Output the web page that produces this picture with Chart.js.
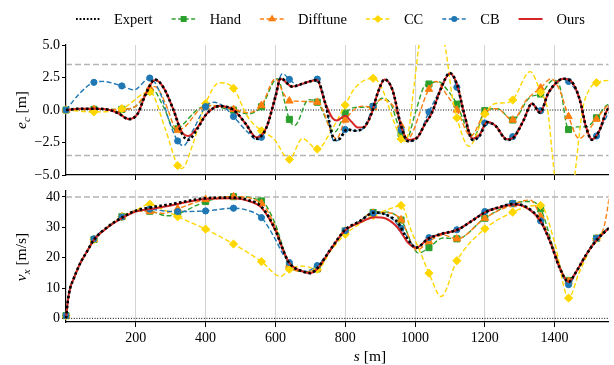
<!DOCTYPE html>
<html>
<head>
<meta charset="utf-8">
<script src="https://cdn.jsdelivr.net/npm/chart.js@4"></script>
<style>
  body { margin: 0; background: #fff; }
  #wrap { position: relative; width: 614px; height: 365px; font-family: "Liberation Serif", serif; color: #000; }
  canvas { position: absolute; left: 0; }
  .lab { position: absolute; font-size: 15.5px; white-space: nowrap; line-height: 1; }
  .rot { transform: translate(-50%, -50%) rotate(-90deg); }
  .ctr { transform: translate(-50%, -50%); }
  .lab sub { font-size: 70%; vertical-align: -0.3em; line-height: 0; }
</style>
</head>
<body>
<div id="wrap">
  <canvas id="topChart" width="614" height="185" style="top:0"></canvas>
  <canvas id="botChart" width="614" height="180" style="top:185px"></canvas>
  <div class="lab rot" style="left:21px;top:110px"><i>e<sub>c</sub></i> [m]</div>
  <div class="lab rot" style="left:21px;top:257px"><i>v<sub>x</sub></i> [m/s]</div>
  <div class="lab ctr" style="left:370px;top:356px"><i>s</i> [m]</div>
</div>
<script>
// axis ranges / ticks
const sMin = 0, sMax = 1555;
const sTicks = [200, 400, 600, 800, 1000, 1200, 1400];
const sTickLabels = ["200", "400", "600", "800", "1000", "1200", "1400"];
const eTicks = [-5, -2.5, 0, 2.5, 5];
const eTickLabels = ["\u22125.0", "\u22122.5", "0.0", "2.5", "5.0"];
const vTicks = [0, 10, 20, 30, 40];
const vTickLabels = ["0", "10", "20", "30", "40"];
const eBound = 3.5;
const vLimit = 40;
const names = ["Expert", "Hand", "Difftune", "CC", "CB", "Ours"];

// lateral error e_c [m]  ([s, value])
const expertE = [[0,0],[40,0.1],[90,0.1],[125,0],[150,-0.25],[180,-0.7],[205,-0.3],[228,1.2],[255,2.35],[280,1.7],[308,0],[332,-1.8],[350,-2.3],[375,-1.5],[403,-0.3],[440,0.3],[480,0],[516,-1.1],[545,-2.2],[560,-2.0],[575,-1.3],[600,1.0],[615,2.45],[648,1.8],[686,2.1],[719,2.3],[743,0.5],[770,-2.3],[785,-2.2],[805,-1.5],[830,-1.6],[855,-1.3],[875,-0.3],[893,1.3],[913,2.35],[936,1.5],[960,-1.2],[980,-2.4],[1007,-2.1],[1030,-1.0],[1047,-0.3],[1075,1.7],[1100,2.85],[1120,2.0],[1141,-0.3],[1165,-2.3],[1185,-2.0],[1207,-0.95],[1230,-1.2],[1264,-2.3],[1283,-2.1],[1311,-0.8],[1335,0.5],[1358,-0.2],[1382,1.3],[1405,2.1],[1424,2.4],[1448,2.2],[1472,0.8],[1490,-1.3],[1507,-2.3],[1528,-1.6],[1547,-0.2],[1560,0.4]];
const oursE = [[0,0],[40,0.1],[90,0.1],[125,0],[150,-0.25],[180,-0.7],[205,-0.3],[228,1.2],[255,2.3],[280,1.7],[308,0],[332,-1.7],[350,-2.0],[375,-1.4],[403,-0.3],[440,0.3],[480,0],[516,-1.1],[545,-2.1],[560,-1.95],[575,-1.3],[600,1.0],[615,2.4],[648,1.8],[686,2.1],[719,2.3],[743,0.5],[763,-0.6],[776,-0.8],[800,-0.45],[818,-0.9],[837,-1.35],[855,-1.3],[875,-0.3],[893,1.3],[913,2.35],[936,1.5],[960,-1.2],[980,-2.3],[1007,-2.1],[1030,-1.0],[1047,-0.3],[1075,1.7],[1100,2.8],[1120,2.0],[1141,-0.3],[1165,-2.2],[1185,-1.9],[1207,-0.9],[1230,-1.2],[1264,-2.25],[1283,-2.1],[1311,-0.8],[1335,0.5],[1358,-0.2],[1382,1.3],[1405,2.1],[1424,2.4],[1448,2.2],[1472,0.8],[1490,-1.3],[1507,-2.25],[1528,-1.6],[1547,-0.2],[1560,0.4]];
const cbE = [[0,0],[40,1.3],[80,2.13],[105,2.2],[160,1.85],[195,1.55],[240,2.46],[270,1.3],[300,-1.2],[320,-2.38],[336,-2.75],[365,-1.5],[400,0.26],[425,0.6],[450,0.3],[480,-0.5],[520,-1.7],[548,-2.3],[560,-2.1],[580,-1.0],[600,1.2],[620,2.8],[640,2.36],[665,1.9],[690,2.1],[720,2.38],[745,0.3],[768,-2.4],[785,-2.2],[800,-1.5],[830,-1.6],[855,-1.3],[880,0.3],[913,2.35],[936,1.5],[960,-1.5],[982,-2.4],[1007,-2.1],[1040,-0.15],[1075,1.7],[1100,2.85],[1120,1.75],[1141,-0.3],[1165,-2.3],[1185,-2.0],[1200,-1.0],[1230,-1.2],[1264,-2.3],[1280,-2.05],[1311,-0.8],[1335,0.5],[1360,-0.05],[1382,1.3],[1424,2.4],[1440,2.2],[1472,0.8],[1490,-1.3],[1507,-2.3],[1520,-2.0],[1547,-0.6],[1560,0]];
const handE = [[0,0],[80,0.05],[160,0.05],[200,0.3],[240,1.45],[250,1.5],[280,0.2],[312,-1.5],[320,-1.45],[380,0.1],[400,0.3],[410,0.35],[440,0.2],[480,0],[520,-0.3],[560,0.25],[605,2.4],[640,-0.72],[655,-1.2],[695,0.8],[720,0.6],[770,-1.7],[800,-0.25],[830,0.2],[880,0.25],[905,0.9],[930,0.5],[960,-1.8],[975,-2.3],[1000,-0.3],[1026,1.8],[1040,2.0],[1066,2.2],[1094,1.5],[1120,0.45],[1150,-1.5],[1170,-2.0],[1200,-0.05],[1236,0.1],[1280,-0.77],[1330,1.0],[1360,1.23],[1396,2.3],[1415,1.8],[1440,-1.5],[1462,-1.3],[1490,-1.3],[1520,-0.6],[1547,0.3],[1560,0.5]];
const diffE = [[0,0],[80,0.05],[160,0.05],[200,0.3],[240,1.7],[255,1.8],[285,0.5],[315,-1.5],[320,-1.55],[340,-1.3],[390,0.2],[400,0.25],[420,0.35],[480,0.05],[520,-0.2],[560,0.35],[600,2.4],[625,1.2],[640,0.7],[720,0.6],[775,-2.2],[800,-0.77],[850,0.3],[880,0.2],[900,0.8],[940,0.2],[960,-1.2],[975,-2.3],[1040,1.6],[1060,2.2],[1090,1.2],[1120,0],[1160,-2.0],[1200,-0.2],[1235,0.1],[1280,-0.77],[1320,0.8],[1360,1.7],[1390,2.4],[1415,1.5],[1440,-0.5],[1470,-2.2],[1490,-1.8],[1520,-0.7],[1550,0.3],[1560,0.5]];
const ccE = [[0,0],[80,-0.15],[160,0.1],[240,1.4],[285,-1.5],[320,-4.28],[332,-4.5],[365,-2.5],[400,0.5],[440,2.1],[480,1.67],[520,-0.5],[560,-1.6],[595,-2.2],[640,-3.8],[677,-2.2],[720,-3.0],[762,-1.5],[800,0.38],[828,1.7],[880,2.44],[903,1.8],[941,-1.0],[960,-2.23],[974,-2.4],[998,2.0],[1012,5.1],[1040,8.5],[1085,5.1],[1108,0.8],[1120,-0.6],[1155,-2.8],[1200,-0.3],[1230,0.5],[1260,0.55],[1280,0.77],[1330,2.95],[1360,1.36],[1380,0],[1400,-5.0],[1440,-9],[1458,-5.0],[1480,0],[1500,1.6],[1520,2.1],[1560,2.3]];

// longitudinal speed v_x [m/s]  ([s, value])
const expertV = [[0,0],[5,5.5],[12,10],[20,12.5],[40,18],[60,22],[80,25.9],[120,30.2],[160,33.2],[200,35.5],[240,36.5],[300,37.6],[350,38.7],[400,39.6],[480,39.8],[520,39],[560,36.8],[600,29.1],[620,23.1],[640,18.2],[680,15.4],[700,14.9],[720,16.5],[760,23.1],[800,29.2],[840,31.9],[885,34.9],[914,34.3],[952,31.4],[971,27.5],[1004,23.3],[1037,26.2],[1075,27.8],[1122,29.2],[1160,31.9],[1202,35],[1245,36.8],[1283,37.7],[1320,36.6],[1358,32.5],[1387,25.3],[1415,16.5],[1440,12],[1462,15.4],[1490,20.9],[1523,26.1],[1560,30.2]];
const oursV = [[0,0],[5,5.5],[12,10],[20,12.5],[40,18],[60,22],[80,25.9],[120,30.0],[160,33.0],[200,35.2],[240,36.0],[300,37.2],[350,38.4],[400,39.3],[480,39.6],[520,38.8],[560,36.5],[600,29.0],[620,23.1],[640,18.2],[680,15.4],[700,14.9],[720,16.3],[760,23.0],[800,29.0],[840,31.5],[885,33.3],[914,33.0],[952,29.7],[981,24.8],[1004,23.3],[1037,26.2],[1075,27.8],[1122,29.2],[1160,31.9],[1202,35],[1245,36.6],[1283,37.5],[1320,36.4],[1358,32.3],[1387,25.3],[1415,16.5],[1440,12],[1462,15.4],[1490,20.9],[1523,26.1],[1560,30.2]];
const cbV = [[0,0.9],[5,5.5],[12,10],[20,12.5],[40,18],[60,22],[80,26.2],[120,30.2],[160,33.4],[200,35.3],[240,36.0],[280,35.4],[320,35.2],[400,35.4],[480,36.3],[520,35.6],[560,33.2],[600,26],[620,21.5],[640,18.4],[680,15.5],[720,17.4],[760,23.1],[800,28.9],[840,31.9],[880,34.6],[914,34.3],[960,29.7],[1004,23.5],[1040,26.6],[1075,27.8],[1120,29.2],[1160,31.9],[1200,35.2],[1245,36.8],[1280,37.9],[1320,36.6],[1360,32.1],[1387,25.3],[1415,16.5],[1440,11.1],[1462,15.4],[1490,20.9],[1520,26.4],[1560,30.2]];
const handV = [[0,0.9],[5,5.5],[12,10],[20,12.5],[40,18],[60,22],[80,26.0],[120,30.2],[160,33.5],[200,35.4],[240,35.3],[290,33.8],[320,34.4],[400,38.5],[480,40.1],[560,38.7],[600,31],[620,24],[640,17.1],[680,15.4],[720,16.3],[760,23],[800,28.8],[840,31.9],[880,34.9],[920,35],[960,32.4],[1010,21.5],[1040,23.3],[1080,26.5],[1120,26.2],[1200,33],[1280,37.8],[1330,38.5],[1360,36.1],[1400,22],[1440,12.5],[1462,15.4],[1490,20.9],[1520,26.4],[1560,30.2]];
const diffV = [[0,0.9],[5,5.5],[12,10],[20,12.5],[40,18],[60,22],[80,26.0],[120,30.2],[160,33.5],[200,35.4],[240,35.2],[280,34.6],[320,36.1],[400,39.2],[480,40.1],[560,37.9],[600,30],[620,23.5],[640,17.5],[680,15.4],[720,16.3],[760,23],[800,28.8],[840,31.9],[880,34.7],[920,34.8],[960,32.5],[1005,22.5],[1040,25.3],[1080,27.5],[1120,26.2],[1200,33],[1280,37.5],[1330,39.0],[1360,33.5],[1400,22],[1440,12.2],[1462,15.4],[1490,20.9],[1520,26.4],[1540,29.5],[1550,35],[1560,43]];
const ccV = [[0,0.9],[5,5.5],[12,10],[20,12.5],[40,18],[60,22],[80,26.0],[120,30.2],[160,33.5],[200,35.6],[240,37.6],[280,35.8],[320,33.5],[400,29.4],[480,24.5],[560,18.7],[615,13.8],[640,16.2],[680,17.2],[720,16.2],[760,22.5],[800,27.7],[840,31],[880,33.9],[933,36.3],[960,37.2],[990,28.6],[1018,21],[1040,14.9],[1075,7.2],[1120,19],[1200,29.5],[1280,35],[1330,37],[1360,37.2],[1400,25],[1440,6.7],[1470,15],[1520,26.3],[1560,30]];

const styles = {
  Expert:   { color: "#000000", width: 2.6, dash: [2.6, 2.4], marker: null },
  Hand:     { color: "#2ca02c", width: 1.4, dash: [5, 2.5], marker: "rect", r: 4.3 },
  Difftune: { color: "#ff7f0e", width: 1.4, dash: [5, 2.5], marker: "triangle", r: 4.3 },
  CC:       { color: "#ffd700", width: 1.4, dash: [5, 2.5], marker: "rectRot", r: 4.1 },
  CB:       { color: "#1f77b4", width: 1.4, dash: [5, 2.5], marker: "circle", r: 3.1 },
  Ours:     { color: "#d62728", width: 2, dash: [], marker: null }
};
const drawOrder = ["Expert", "Ours", "CB", "CC", "Difftune", "Hand"];
const FONT = "Liberation Serif";

function toPts(arr) { return arr.map(p => ({ x: p[0], y: p[1] })); }

function makeSets(series, refs) {
  const sets = drawOrder.map(name => {
    const st = styles[name];
    return {
      label: name,
      data: toPts(series[name]),
      borderColor: st.color,
      backgroundColor: st.color,
      borderWidth: st.width,
      borderDash: st.dash,
      cubicInterpolationMode: "monotone",
      pointStyle: st.marker || "circle",
      pointRadius: c => (st.marker && c.raw && c.raw.x % 80 === 0 ? st.r : 0),
      pointBackgroundColor: st.color,
      pointBorderColor: st.color,
      pointBorderWidth: 1,
      pointHoverRadius: 0,
      clip: { left: 6, top: 0, right: 0, bottom: 0 }
    };
  });
  refs.forEach(r => {
    sets.push({
      data: [{ x: sMin, y: r.y }, { x: sMax, y: r.y }],
      borderColor: r.color, borderWidth: r.width, borderDash: r.dash,
      pointRadius: 0, tension: 0
    });
  });
  return sets;
}

function xAxis(showLabels, h) {
  return {
    type: "linear", min: sMin, max: sMax,
    afterBuildTicks: s => { s.ticks = sTicks.map(v => ({ value: v })); },
    ticks: {
      display: showLabels, autoSkip: false, maxRotation: 0, color: "#000", padding: 3,
      font: { family: FONT, size: 14 },
      callback: v => sTickLabels[sTicks.indexOf(v)]
    },
    grid: { color: "#d4d4d4", lineWidth: 1, drawTicks: true, tickLength: 5, tickColor: "#000", tickWidth: 1 },
    border: { display: true, color: "#000", width: 1.2 },
    afterFit: s => { s.height = h; s.paddingLeft = 0; s.paddingRight = 0; }
  };
}

function yAxis(min, max, ticks, labels) {
  return {
    type: "linear", min: min, max: max,
    afterBuildTicks: s => { s.ticks = ticks.map(v => ({ value: v })); },
    ticks: {
      color: "#000", padding: 2, font: { family: FONT, size: 14 },
      callback: v => labels[ticks.indexOf(v)]
    },
    grid: { drawOnChartArea: false, drawTicks: true, tickLength: 4, tickColor: "#000", color: "#000" },
    border: { color: "#000", width: 1.2 },
    afterFit: s => { s.width = 66; s.paddingTop = 0; s.paddingBottom = 0; }
  };
}

// legend drawn across the top of the upper panel
const legendPlugin = {
  id: "topLegend",
  afterDraw(chart) {
    const ctx = chart.ctx;
    const y = 19;
    let x = 76;
    ctx.save();
    ctx.font = "14.5px '" + FONT + "'";
    ctx.textBaseline = "middle";
    names.forEach(name => {
      const st = styles[name];
      ctx.strokeStyle = st.color;
      ctx.lineWidth = name === "Expert" ? 1.8 : st.width;
      ctx.setLineDash(name === "Expert" ? [1.8, 1.8] : [4, 2.5]);
      if (name === "Ours") ctx.setLineDash([]);
      ctx.beginPath(); ctx.moveTo(x, y); ctx.lineTo(x + 24, y); ctx.stroke();
      ctx.setLineDash([]);
      if (st.marker) {
        Chart.helpers.drawPoint(ctx, {
          pointStyle: st.marker, radius: st.r * 0.75, borderWidth: 1, rotation: 0
        }, x + 12, y);
        ctx.fillStyle = st.color;
        ctx.fill();
      }
      ctx.fillStyle = "#000";
      ctx.fillText(name, x + 38, y + 1);
      x += 38 + ctx.measureText(name).width + 19;
    });
    ctx.restore();
  }
};

const common = {
  responsive: false,
  animation: false,
  events: [],
  plugins: { legend: { display: false }, tooltip: { enabled: false } }
};

new Chart(document.getElementById("topChart"), {
  type: "line",
  data: {
    datasets: makeSets(
      { Expert: expertE, Ours: oursE, CB: cbE, CC: ccE, Difftune: diffE, Hand: handE },
      [
        { y: 0, color: "#000", width: 1, dash: [1, 1.6] },
        { y: eBound, color: "#b4b4b4", width: 1.5, dash: [6, 3] },
        { y: -eBound, color: "#b4b4b4", width: 1.5, dash: [6, 3] }
      ])
  },
  options: Object.assign({}, common, {
    layout: { padding: { top: 45, left: 0, right: 0, bottom: 0 } },
    scales: { x: xAxis(false, 10), y: yAxis(-5, 5, eTicks, eTickLabels) }
  }),
  plugins: [legendPlugin]
});

new Chart(document.getElementById("botChart"), {
  type: "line",
  data: {
    datasets: makeSets(
      { Expert: expertV, Ours: oursV, CB: cbV, CC: ccV, Difftune: diffV, Hand: handV },
      [
        { y: 0, color: "#000", width: 1, dash: [1, 1.6] },
        { y: vLimit, color: "#b4b4b4", width: 1.5, dash: [6, 3] }
      ])
  },
  options: Object.assign({}, common, {
    layout: { padding: { top: 5, left: 0, right: 0, bottom: 0 } },
    scales: { x: xAxis(true, 43), y: yAxis(-1.2, 42.2, vTicks, vTickLabels) }
  })
});
</script>
</body>
</html>
